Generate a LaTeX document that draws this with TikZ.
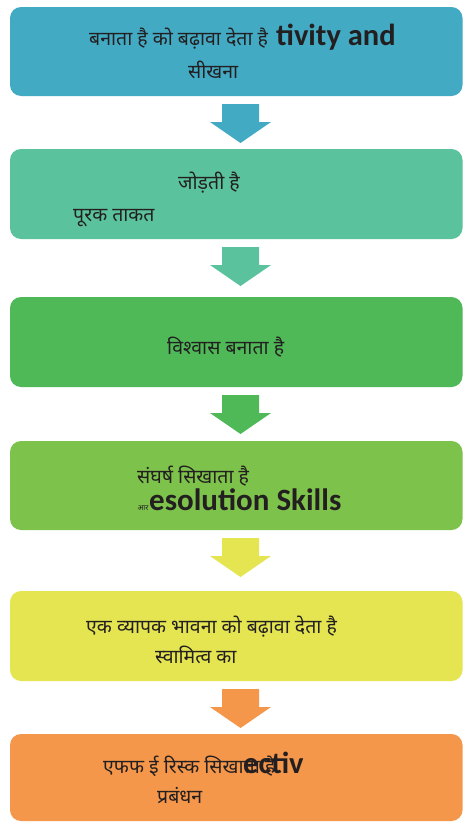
\documentclass[tikz,border=0pt]{standalone}
\usepackage{fontspec}
\newfontfamily\devfont[Script=Devanagari]{Noto Sans}
\newfontfamily\calfont{Carlito}
\definecolor{cA}{HTML}{43AAC4}
\definecolor{cB}{HTML}{5AC29C}
\definecolor{cC}{HTML}{4FB958}
\definecolor{cD}{HTML}{7DC24B}
\definecolor{cE}{HTML}{E4E551}
\definecolor{cF}{HTML}{F5974A}
\definecolor{ink}{HTML}{231F20}
\begin{document}
\begin{tikzpicture}[x=1pt,y=-1pt,
  panel/.style={fill=#1, rounded corners=11pt},
  dv/.style={anchor=base west, inner sep=0pt, text=ink, font=\devfont\fontsize{19.5}{22}\selectfont},
  lt/.style={anchor=base west, inner sep=0pt, text=ink, font=\calfont\bfseries\fontsize{30.5}{34}\selectfont},
  darrow/.pic={\fill (-18.5,0) -- (18.5,0) -- (18.5,18) -- (30.5,18) -- (0,39) -- (-30.5,18) -- (-18.5,18) -- cycle;}
]
\useasboundingbox (0,0) rectangle (463,822);
\fill[white] (0,0) rectangle (463,822);
% panels
\path[panel=cA] (10,7) rectangle (462.5,96);
\path[panel=cB] (10,149) rectangle (462.5,239);
\path[panel=cC] (10,297) rectangle (462.5,387);
\path[panel=cD] (10,441) rectangle (462.5,530);
\path[panel=cE] (10,591) rectangle (462.5,681);
\path[panel=cF] (10,734) rectangle (462.5,821);
% arrows
\pic[fill=cA] at (240.5,104) {darrow};
\pic[fill=cB] at (240.5,247) {darrow};
\pic[fill=cC] at (240.5,395) {darrow};
\pic[fill=cE] at (240.5,538) {darrow};
\pic[fill=cF] at (240.5,689) {darrow};
% texts
\node[dv] (t1a) at (89,45) {बनाता है को बढ़ावा देता है};
\node[lt] (t1b) at (276,45) {tivity and};
\node[dv] (t1c) at (188,78) {सीखना};
\node[dv] (t2a) at (178,189) {जोड़ती है};
\node[dv] (t2b) at (73,221) {पूरक ताकत};
\node[dv] (t3a) at (167,354) {विश्वास बनाता है};
\node[dv] (t4a) at (137,483) {संघर्ष सिखाता है};
\node[dv, font=\devfont\fontsize{7.5}{8}\selectfont] (t4b) at (137.5,510) {आर};
\node[lt, font=\calfont\bfseries\fontsize{31}{34}\selectfont] (t4c) at (149,510) {esolution Skills};
\node[dv] (t5a) at (86,633) {एक व्यापक भावना को बढ़ावा देता है};
\node[dv] (t5b) at (155,663) {स्वामित्व का};
\node[dv] (t6a) at (103,773) {एफफ ई रिस्क सिखाता है};
\node[lt] (t6b) at (243,773) {ectiv};
\node[dv] (t6c) at (157,803) {प्रबंधन};
\end{tikzpicture}
\end{document}
